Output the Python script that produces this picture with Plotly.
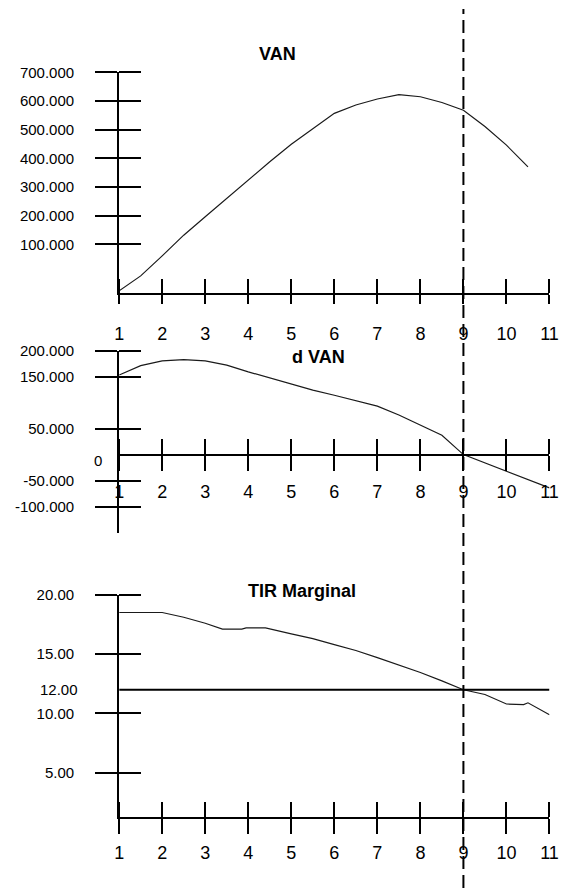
import plotly.graph_objects as go

# ---------------- data ----------------
years_van = [1, 1.5, 2, 2.5, 3, 3.5, 4, 4.5, 5, 5.5, 6, 6.5, 7, 7.5, 8, 8.5, 9, 9.5, 10, 10.5]
van = [-62000, -10000, 60000, 132000, 196000, 261000, 326000, 388000, 449000, 503000,
       557000, 586000, 607000, 622000, 615000, 595000, 568000, 511000, 446000, 370000]

years_dvan = [1, 1.5, 2, 2.5, 3, 3.5, 4, 4.5, 5, 5.5, 6, 6.5, 7, 7.5, 8, 8.5, 9, 9.5, 10, 10.5, 11]
dvan = [153000, 171000, 180000, 182500, 180000, 172000, 159000, 147000, 136000, 124000,
        114000, 104000, 93000, 76000, 57000, 37000, 0, -16000, -32000, -48000, -64000]

years_tir = [1, 2, 2.5, 3, 3.4, 3.85, 3.95, 4.4, 5, 5.5, 6, 6.5, 7, 7.5, 8, 8.5, 9, 9.5, 10, 10.4, 10.5, 11]
tir = [18.5, 18.5, 18.1, 17.6, 17.1, 17.1, 17.2, 17.2, 16.7, 16.3, 15.8, 15.3, 14.7, 14.1,
       13.45, 12.75, 12.0, 11.6, 10.8, 10.75, 10.9, 9.9]

x_ticks = [1, 2, 3, 4, 5, 6, 7, 8, 9, 10, 11]
van_ticks = [100000, 200000, 300000, 400000, 500000, 600000, 700000]
van_ticktext = ["100.000", "200.000", "300.000", "400.000", "500.000", "600.000", "700.000"]
dvan_ticks = [200000, 150000, 50000, -50000, -100000]
dvan_ticktext = ["200.000", "150.000", "50.000", "-50.000", "-100.000"]
tir_ticks = [5, 10, 15, 20]
tir_ticktext = ["5.00", "10.00", "15.00", "20.00"]

tasa_descuento = 12          # horizontal reference line (TIR)
vida_optima = 9              # vertical dashed line

van_range = [-70000, 700000]
dvan_range = [-150000, 200000]
tir_range = [1.31, 20]
x_range = [1, 11]

titles = ["VAN", "d VAN", "TIR Marginal"]

# ---------------- layout helpers ----------------
W, H = 578, 888
FONT = "Liberation Sans, Arial, sans-serif"
xdom = [117 / W, 558 / W]
dom_top = [1 - 287 / H, 1 - 64 / H]
dom_mid = [1 - 529 / H, 1 - 345 / H]
dom_bot = [1 - 816 / H, 1 - 591.7 / H]

line_style = dict(color="#1a1a1a", width=1.2)

fig = go.Figure()
fig.add_trace(go.Scatter(x=years_van, y=van, mode="lines", line=line_style, xaxis="x", yaxis="y",
                         hoverinfo="skip"))
fig.add_trace(go.Scatter(x=years_dvan, y=dvan, mode="lines", line=line_style, xaxis="x2", yaxis="y2",
                         hoverinfo="skip"))
fig.add_trace(go.Scatter(x=years_tir, y=tir, mode="lines", line=line_style, xaxis="x3", yaxis="y3",
                         hoverinfo="skip"))
fig.add_trace(go.Scatter(x=x_range, y=[tasa_descuento, tasa_descuento], mode="lines",
                         line=dict(color="black", width=2), xaxis="x3", yaxis="y3", hoverinfo="skip"))


def xax(anchor, out_len, in_len, standoff, **kw):
    d = dict(domain=xdom, range=x_range, anchor=anchor, tickmode="array", tickvals=x_ticks,
             ticks="outside", ticklen=out_len, tickwidth=2, tickcolor="black",
             minor=dict(tickmode="array", tickvals=x_ticks, ticks="inside", ticklen=in_len,
                        tickwidth=2, tickcolor="black"),
             showline=True, linewidth=2, linecolor="black", showgrid=False, zeroline=False,
             tickfont=dict(family=FONT, size=18, color="black"), ticklabelstandoff=standoff,
             fixedrange=True)
    d.update(kw)
    return d


def yax(anchor, dom, rng, vals, text, **kw):
    d = dict(domain=dom, range=rng, anchor=anchor, tickmode="array", tickvals=vals, ticktext=text,
             ticks="outside", ticklen=22, tickwidth=2, tickcolor="black",
             minor=dict(tickmode="array", tickvals=vals, ticks="inside", ticklen=22,
                        tickwidth=2, tickcolor="black"),
             showline=True, linewidth=2, linecolor="black", showgrid=False, zeroline=False,
             tickfont=dict(family=FONT, size=15, color="black"), ticklabelstandoff=18,
             fixedrange=True)
    d.update(kw)
    return d


# position of the d VAN x-axis at y = 0
zero_pos = dom_mid[0] + (0 - dvan_range[0]) / (dvan_range[1] - dvan_range[0]) * (dom_mid[1] - dom_mid[0])

fig.update_layout(
    width=W, height=H, margin=dict(l=0, r=0, t=0, b=0),
    paper_bgcolor="white", plot_bgcolor="white", showlegend=False,
    xaxis=xax("y", 9, 14, 14),
    yaxis=yax("x", dom_top, van_range, van_ticks, van_ticktext),
    xaxis2=xax("free", 15, 15, 6, position=zero_pos),
    yaxis2=yax("x2", dom_mid, dvan_range, dvan_ticks, dvan_ticktext),
    xaxis3=xax("y3", 15, 15, 4),
    yaxis3=yax("x3", dom_bot, tir_range, tir_ticks, tir_ticktext),
)

# vertical dashed line across the whole figure
fig.add_shape(type="line", xref="x", yref="paper", x0=vida_optima, x1=vida_optima, y0=0, y1=1,
              line=dict(color="black", width=2, dash="13px,6px"))

# titles
title_pos = [(279.5, 45), (321, 351.5), (304.5, 587.5)]
for t, (px, py) in zip(titles, title_pos):
    fig.add_annotation(text="<b>%s</b>" % t, x=px / W, y=1 - py / H, xref="paper", yref="paper",
                       showarrow=False, xanchor="center", yanchor="middle",
                       font=dict(family=FONT, size=18, color="black"))

# labels without tick stubs
fig.add_annotation(text="0", x=95 / W, y=0, xref="paper", yref="y2", showarrow=False,
                   xanchor="center", yanchor="middle", yshift=-6,
                   font=dict(family=FONT, size=15, color="black"))
fig.add_annotation(text="12.00", x=77 / W, y=tasa_descuento, xref="paper", yref="y3", showarrow=False,
                   xanchor="right", yanchor="middle",
                   font=dict(family=FONT, size=15, color="black"))

fig.write_html("out.html")
